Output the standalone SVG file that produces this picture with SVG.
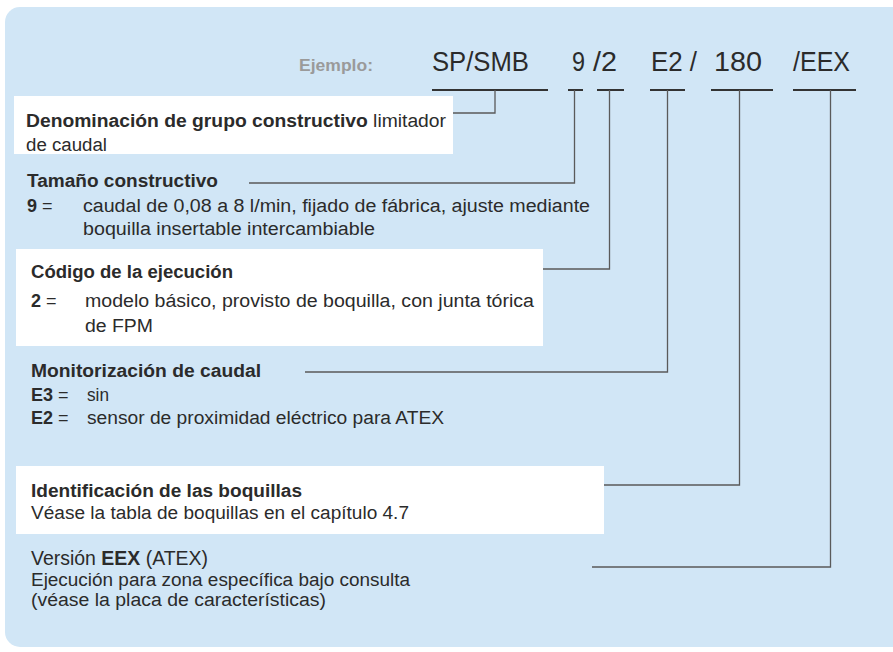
<svg xmlns="http://www.w3.org/2000/svg" width="893" height="652" viewBox="0 0 893 652">
<style>
text{font-family:"Liberation Sans","DejaVu Sans",sans-serif;fill:#2b2b2b}
.b{font-size:18px}
.h{font-weight:bold}
.code{font-size:28px}
.ej{font-size:17px;font-weight:bold;fill:#9a9a9a}
.box{fill:#ffffff}
.ul{stroke:#333;stroke-width:2;fill:none}
.ln{stroke:#5a5a5a;stroke-width:1.3;fill:none}
</style>
<rect x="5" y="7" width="903" height="640" rx="15" fill="#d1e6f6"/>
<g id="example">
<text class="ej" x="299" y="71" textLength="74" lengthAdjust="spacingAndGlyphs">Ejemplo:</text>
<text class="code" x="432" y="71" textLength="97" lengthAdjust="spacingAndGlyphs">SP/SMB</text>
<text class="code" x="572" y="71" textLength="13" lengthAdjust="spacingAndGlyphs">9</text>
<text class="code" x="593" y="71" textLength="24" lengthAdjust="spacingAndGlyphs">/2</text>
<text class="code" x="651" y="71" textLength="46" lengthAdjust="spacingAndGlyphs">E2 /</text>
<text class="code" x="714" y="71" textLength="48" lengthAdjust="spacingAndGlyphs">180</text>
<text class="code" x="793" y="71" textLength="57" lengthAdjust="spacingAndGlyphs">/EEX</text>
</g>
<g id="connectors">
<line class="ul" x1="432" y1="90" x2="548" y2="90"/>
<line class="ul" x1="568" y1="90" x2="583" y2="90"/>
<line class="ul" x1="597" y1="90" x2="624" y2="90"/>
<line class="ul" x1="650" y1="90" x2="685" y2="90"/>
<line class="ul" x1="711" y1="90" x2="773" y2="90"/>
<line class="ul" x1="793" y1="90" x2="856" y2="90"/>
<path class="ln" d="M495,90 V113 H453"/>
<path class="ln" d="M574.5,90 V183 H249"/>
<path class="ln" d="M609.5,90 V269 H543"/>
<path class="ln" d="M667.5,90 V372 H305"/>
<path class="ln" d="M739.5,90 V485 H604"/>
<path class="ln" d="M830.5,90 V567 H592"/>
</g>
<g id="grupo">
<rect class="box" x="14" y="96" width="439" height="58"/>
<text class="b" x="26" y="127" textLength="420" lengthAdjust="spacingAndGlyphs"><tspan class="h">Denominación de grupo constructivo</tspan> limitador</text>
<text class="b" x="26" y="151" textLength="81" lengthAdjust="spacingAndGlyphs">de caudal</text>
</g>
<g id="tamano">
<text class="b h" x="27" y="187" textLength="191" lengthAdjust="spacingAndGlyphs">Tamaño constructivo</text>
<text class="b" x="27" y="212"><tspan class="h">9</tspan> =</text>
<text class="b" x="83" y="212" textLength="507" lengthAdjust="spacingAndGlyphs">caudal de 0,08 a 8 l/min, fijado de fábrica, ajuste mediante</text>
<text class="b" x="83" y="235" textLength="292" lengthAdjust="spacingAndGlyphs">boquilla insertable intercambiable</text>
</g>
<g id="codigo">
<rect class="box" x="16" y="249" width="527" height="97"/>
<text class="b h" x="31" y="278" textLength="202" lengthAdjust="spacingAndGlyphs">Código de la ejecución</text>
<text class="b" x="31" y="307"><tspan class="h">2</tspan> =</text>
<text class="b" x="85" y="307" textLength="449" lengthAdjust="spacingAndGlyphs">modelo básico, provisto de boquilla, con junta tórica</text>
<text class="b" x="85" y="332" textLength="68" lengthAdjust="spacingAndGlyphs">de FPM</text>
</g>
<g id="monitorizacion">
<text class="b h" x="31" y="377" textLength="230" lengthAdjust="spacingAndGlyphs">Monitorización de caudal</text>
<text class="b" x="31" y="401"><tspan class="h">E3</tspan> =</text>
<text class="b" x="87" y="401" textLength="22" lengthAdjust="spacingAndGlyphs">sin</text>
<text class="b" x="31" y="424"><tspan class="h">E2</tspan> =</text>
<text class="b" x="87" y="424" textLength="357" lengthAdjust="spacingAndGlyphs">sensor de proximidad eléctrico para ATEX</text>
</g>
<g id="boquillas">
<rect class="box" x="16" y="466" width="588" height="68"/>
<text class="b h" x="31" y="497" textLength="271" lengthAdjust="spacingAndGlyphs">Identificación de las boquillas</text>
<text class="b" x="31" y="519" textLength="378" lengthAdjust="spacingAndGlyphs">Véase la tabla de boquillas en el capítulo 4.7</text>
</g>
<g id="version">
<text class="b" x="31" y="565" style="font-size:19.5px" textLength="177" lengthAdjust="spacingAndGlyphs">Versión <tspan class="h">EEX</tspan> (ATEX)</text>
<text class="b" x="31" y="586" textLength="379" lengthAdjust="spacingAndGlyphs">Ejecución para zona específica bajo consulta</text>
<text class="b" x="31" y="606" textLength="295" lengthAdjust="spacingAndGlyphs">(véase la placa de características)</text>
</g>
</svg>
